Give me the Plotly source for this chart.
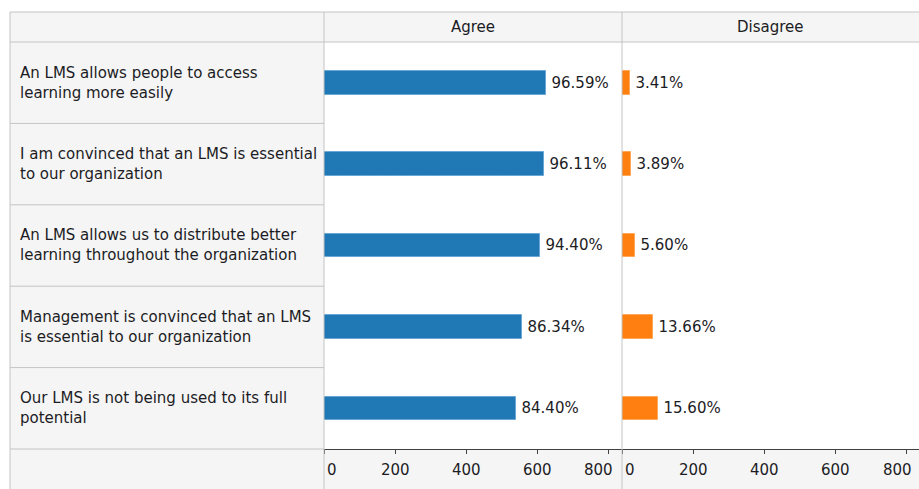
import plotly.graph_objects as go
from plotly.subplots import make_subplots

# Survey statements, top to bottom
statements = [
    "An LMS allows people to access<br>learning more easily",
    "I am convinced that an LMS is essential<br>to our organization",
    "An LMS allows us to distribute better<br>learning throughout the organization",
    "Management is convinced that an LMS<br>is essential to our organization",
    "Our LMS is not being used to its full<br>potential",
]
agree_counts = [623, 618, 607, 556, 541]
disagree_counts = [22, 25, 36, 88, 100]
panel_titles = ["Agree", "Disagree"]
tick_values = [0, 200, 400, 600, 800]

W, H = 919, 489
FONT = "DejaVu Sans"
FS = 15
TXT = "#1c1c24"
GRID = "#c4c4c4"
BAND = "#f5f5f5"

totals = [a + d for a, d in zip(agree_counts, disagree_counts)]
# thin space keeps the value labels slightly clear of the bar ends
agree_pct = [f"\u2009{a / t * 100:.2f}%" for a, t in zip(agree_counts, totals)]
disagree_pct = [f"\u2009{d / t * 100:.2f}%" for d, t in zip(disagree_counts, totals)]
cats = [f"s{i}" for i in range(len(statements))]


def px_x(p):
    return p / W


def px_y(p):
    return 1 - p / H


fig = make_subplots(rows=1, cols=2, shared_yaxes=True, horizontal_spacing=0)

fig.add_trace(go.Bar(
    y=cats, x=agree_counts, orientation="h", width=0.29,
    marker=dict(color="#1f77b4", line=dict(color="#6aa6d6", width=1),
                pattern=dict(shape="x", size=3, solidity=0.15, fgcolor="#2b86c6")),
    text=agree_pct, textposition="outside", cliponaxis=False, constraintext="none",
    textfont=dict(family=FONT, size=FS, color=TXT), showlegend=False,
), row=1, col=1)

fig.add_trace(go.Bar(
    y=cats, x=disagree_counts, orientation="h", width=0.29,
    marker=dict(color="#ff7f0e", line=dict(color="#ffa85a", width=1),
                pattern=dict(shape="x", size=3, solidity=0.15, fgcolor="#ff8c24")),
    text=disagree_pct, textposition="outside", cliponaxis=False, constraintext="none",
    textfont=dict(family=FONT, size=FS, color=TXT), showlegend=False,
), row=1, col=2)

x_dom1 = [px_x(324), px_x(622)]
x_dom2 = [px_x(622), 1.0]
y_dom = [px_y(449), px_y(42)]

axis_common = dict(showgrid=False, zeroline=False, showline=True, linecolor="#404040",
                   linewidth=1, ticks="outside", ticklen=4, tickcolor="#404040",
                   tickvals=tick_values, showticklabels=False, fixedrange=True)
yaxis_common = dict(domain=y_dom, categoryorder="array", categoryarray=cats,
                    range=[len(cats) - 0.5, -0.5], showticklabels=False, showgrid=False,
                    zeroline=False, showline=False, ticks="")
fig.update_layout(
    xaxis=dict(domain=x_dom1, range=[0, 838], **axis_common),
    xaxis2=dict(domain=x_dom2, range=[0, 834], **axis_common),
    yaxis=dict(**yaxis_common),
    yaxis2=dict(matches="y", **yaxis_common),
)

shapes = []
# grey bands: label column, header row, axis row
for x0, y0, x1, y1 in [(10, 12, 324, H), (324, 12, W, 42), (324, 449, W, H)]:
    shapes.append(dict(type="rect", xref="paper", yref="paper", x0=px_x(x0), x1=px_x(x1),
                       y0=px_y(y1), y1=px_y(y0), fillcolor=BAND, line=dict(width=0),
                       layer="below"))
# table rules
row_edges = [42 + i * (449 - 42) / 5 for i in range(6)]
lines = [
    (10, 12, W, 12),
    (10, 42, W, 42),
    (10, 12, 10, H),
    (324, 12, 324, H),
    (622, 12, 622, H),
]
for ry in row_edges[1:]:
    lines.append((10, ry, 324, ry))
for x0, y0, x1, y1 in lines:
    shapes.append(dict(type="line", xref="paper", yref="paper", x0=px_x(x0), x1=px_x(x1),
                       y0=px_y(y0), y1=px_y(y1), line=dict(color=GRID, width=1),
                       layer="above"))

annotations = []
for title, dom in zip(panel_titles, [x_dom1, [px_x(622), px_x(919)]]):
    annotations.append(dict(text=title, xref="paper", yref="paper", x=(dom[0] + dom[1]) / 2,
                            y=px_y(27), xanchor="center", yanchor="middle", showarrow=False,
                            font=dict(family=FONT, size=FS, color=TXT)))
for c, s in zip(cats, statements):
    annotations.append(dict(text=s, xref="paper", yref="y", x=px_x(18), y=c, xanchor="left",
                            yanchor="middle", align="left", showarrow=False,
                            font=dict(family=FONT, size=FS, color=TXT)))
for xr in ["x", "x2"]:
    for v in tick_values:
        anchor, shift = "center", 0
        if v == tick_values[0]:
            anchor, shift = "left", 1
        elif v == tick_values[-1]:
            anchor, shift = "right", 7
        annotations.append(dict(text=str(v), xref=xr, yref="paper", x=v, y=px_y(470),
                                xanchor=anchor, yanchor="middle", xshift=shift,
                                showarrow=False, font=dict(family=FONT, size=FS, color=TXT)))

fig.update_layout(
    width=W, height=H, margin=dict(l=0, r=0, t=0, b=0),
    paper_bgcolor="white", plot_bgcolor="white",
    shapes=shapes, annotations=annotations, bargap=0,
    font=dict(family=FONT, size=FS, color=TXT),
)

fig.write_html("out.html")
